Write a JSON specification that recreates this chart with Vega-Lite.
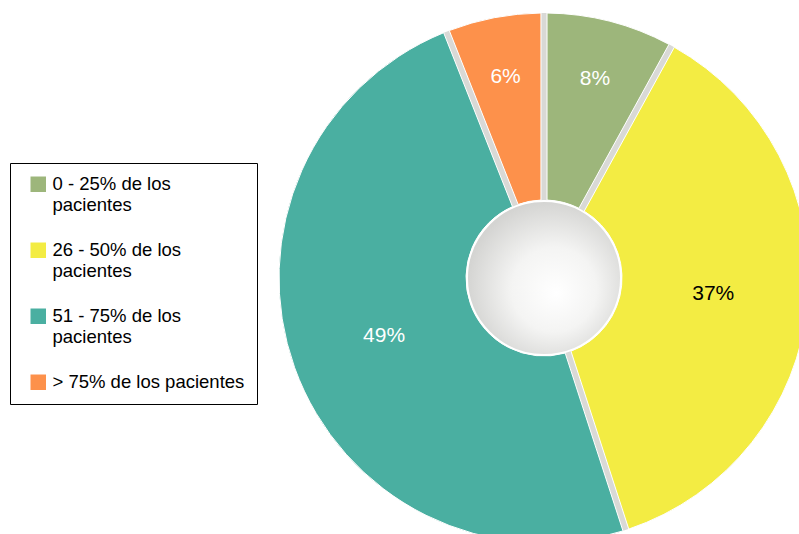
{
  "$schema": "https://vega.github.io/schema/vega-lite/v6.json",
  "width": 799,
  "height": 534,
  "autosize": {"type": "none"},
  "padding": 0,
  "background": "white",
  "config": {"view": {"stroke": null}},
  "data": {"values": [
    {"rango": "0 - 25% de los pacientes", "pct": 8, "orden": 1, "etiqueta": "8%"},
    {"rango": "26 - 50% de los pacientes", "pct": 37, "orden": 2, "etiqueta": "37%"},
    {"rango": "51 - 75% de los pacientes", "pct": 49, "orden": 3, "etiqueta": "49%"},
    {"rango": "> 75% de los pacientes", "pct": 6, "orden": 4, "etiqueta": "6%"}
  ]},
  "layer": [
    {
      "data": {"values": [{"k": 1}]},
      "mark": {"type": "arc", "x": 544, "y": 278, "theta": 0, "theta2": 6.2832, "radius": 265, "radius2": 77, "color": "#d9d9d6"},
      "encoding": {}
    },
    {
      "mark": {"type": "arc", "x": 544, "y": 278, "radius": 265, "radius2": 78, "padAngle": 0.022, "stroke": "white", "strokeWidth": 1},
      "encoding": {
        "theta": {"field": "pct", "type": "quantitative", "stack": true},
        "order": {"field": "orden", "type": "quantitative"},
        "color": {
          "field": "rango",
          "type": "nominal",
          "sort": ["0 - 25% de los pacientes", "26 - 50% de los pacientes", "51 - 75% de los pacientes", "> 75% de los pacientes"],
          "scale": {
            "domain": ["0 - 25% de los pacientes", "26 - 50% de los pacientes", "51 - 75% de los pacientes", "> 75% de los pacientes"],
            "range": ["#9db67b", "#f3ec43", "#4aafa1", "#fd914b"]
          },
          "legend": {
            "orient": "none",
            "legendX": 10,
            "legendY": 163,
            "title": null,
            "strokeColor": "black",
            "fillColor": "white",
            "padding": 12,
            "symbolOffset": 7,
            "symbolType": "square",
            "symbolSize": 240,
            "symbolStrokeWidth": 0,
            "labelFont": "Liberation Sans",
            "labelFontSize": 18.5,
            "labelColor": "black",
            "labelOffset": 5,
            "labelLimit": 400,
            "rowPadding": 26,
            "labelExpr": "datum.label == '> 75% de los pacientes' ? datum.label : [replace(datum.label, ' pacientes', ''), 'pacientes']"
          }
        }
      }
    },
    {
      "mark": {"type": "text", "x": 544, "y": 278, "radius": 205, "font": "Liberation Sans", "fontSize": 21, "color": "white"},
      "encoding": {
        "theta": {"field": "pct", "type": "quantitative", "stack": true},
        "order": {"field": "orden", "type": "quantitative"},
        "text": {"condition": {"test": "datum.pct < 10", "field": "etiqueta", "type": "nominal"}, "value": ""}
      }
    },
    {
      "mark": {"type": "text", "x": 544, "y": 278, "radius": 170, "font": "Liberation Sans", "fontSize": 21},
      "encoding": {
        "theta": {"field": "pct", "type": "quantitative", "stack": true},
        "order": {"field": "orden", "type": "quantitative"},
        "text": {"condition": {"test": "datum.pct >= 10", "field": "etiqueta", "type": "nominal"}, "value": ""},
        "color": {"condition": {"test": "datum.pct == 37", "value": "black"}, "value": "white"}
      }
    },
    {
      "data": {"values": [{"k": 1}]},
      "mark": {
        "type": "arc", "x": 544, "y": 278, "theta": 0, "theta2": 6.2832, "radius": 77,
        "stroke": "white", "strokeWidth": 2,
        "color": {"gradient": "radial", "x1": 0.58, "y1": 0.6, "r1": 0, "x2": 0.55, "y2": 0.55, "r2": 0.55,
          "stops": [{"offset": 0, "color": "#ffffff"}, {"offset": 0.5, "color": "#f4f4f3"}, {"offset": 1, "color": "#d4d4d2"}]}
      },
      "encoding": {}
    }
  ]
}
